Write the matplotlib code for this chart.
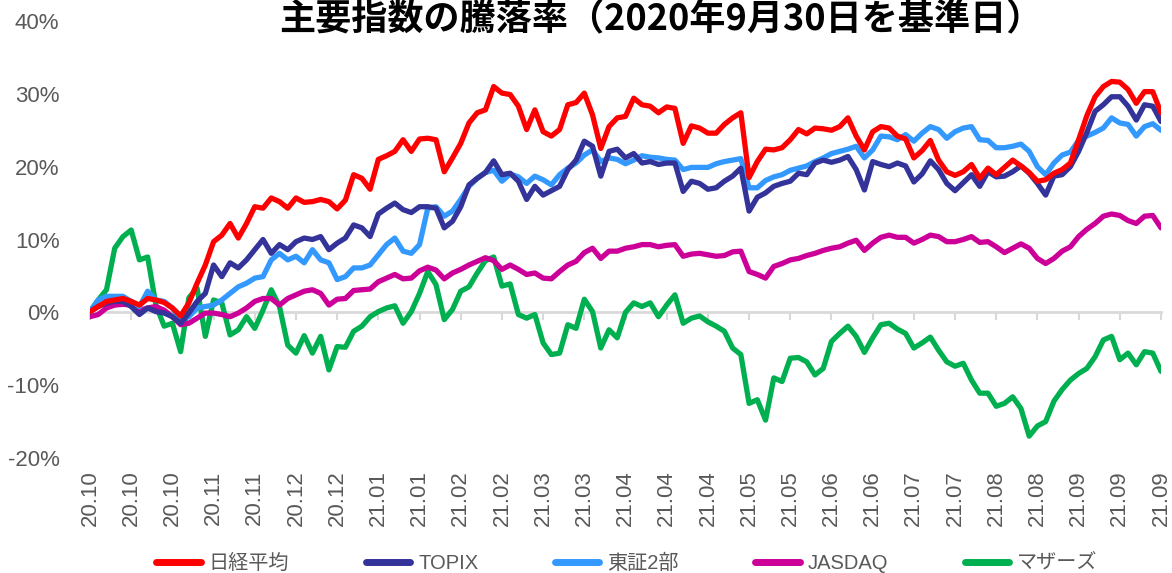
import numpy as np
import matplotlib
matplotlib.use("Agg")
import matplotlib.pyplot as plt

plt.rcParams['font.family'] = ['Liberation Sans', 'Noto Sans CJK JP', 'DejaVu Sans']

# ---- data (percent change from 2020-09-30, sampled every 2 trading days) ----
day = np.arange(0, 261, 2)

nikkei = [0.1, 0.8, 1.5, 1.7, 1.9, 1.5, 1.0, 1.9, 1.7, 1.35, 0.6,
          -0.5, 1.3, 4.0, 6.5, 9.7, 10.6, 12.2, 10.2, 12.2, 14.5,
          14.3, 15.7, 15.2, 14.3, 15.7, 15.1, 15.2, 15.5, 15.2, 14.2, 15.4, 18.9,
          18.4, 16.9, 21.0, 21.5, 22.1, 23.7, 22.1, 23.8, 23.9, 23.7, 19.3, 21.2, 23.2,
          26.0, 27.4, 27.8, 31.0, 30.1, 29.9, 28.3, 25.1, 27.8, 24.8, 24.2, 25.1, 28.5,
          28.8, 30.1, 27.1, 22.5, 25.5, 26.7, 26.9,
          29.4, 28.5, 28.3, 27.4, 28.2, 28.0, 23.2, 25.6, 25.3, 24.6, 24.6, 25.8, 26.7,
          27.4, 18.5, 20.7, 22.4, 22.3, 22.6, 23.7, 25.1, 24.5, 25.3, 25.2, 25.0, 25.5,
          26.7, 24.2, 22.3, 24.8, 25.5, 25.3, 24.2,
          23.8, 21.2, 22.2, 23.6, 20.9, 19.3, 18.8, 19.3, 20.3, 18.4, 19.8, 18.9, 19.9,
          20.9, 20.1, 19.2, 18.0, 18.2, 19.1, 19.6, 20.5, 23.7, 27.0, 29.6, 31.0, 31.7,
          31.6, 30.6, 28.7, 30.3, 30.3, 27.4]

topix = [0.1, 0.8, 1.3, 1.5, 1.5, 0.8, -0.3, 0.6, 0.1, -0.1, -0.6, -1.5, -0.1, 1.5,
         2.6, 6.5, 4.9, 6.8, 6.1, 7.2, 8.6, 10.0, 8.1, 9.3, 8.6, 9.7, 10.2, 10.0, 10.4,
         8.6, 9.5, 10.2, 12.0,
         11.6, 10.4, 13.5, 14.3, 15.0, 14.1, 13.7, 14.5, 14.5, 14.3, 11.6, 12.5, 14.5,
         17.5, 18.4, 19.2, 20.8, 18.9, 19.1, 18.0, 15.5, 17.3, 16.1, 16.7, 17.3, 19.6,
         20.9, 23.5, 22.8, 18.7, 22.1, 22.4, 21.2,
         21.8, 20.5, 20.7, 20.3, 20.5, 20.5, 16.6, 18.0, 17.7, 16.9, 17.1, 18.0, 18.7,
         19.8, 13.9, 15.8, 16.4, 17.3, 17.7, 18.0, 19.1, 18.9, 20.5, 20.9, 20.6, 20.9,
         21.4, 19.6, 16.8, 20.7, 20.3, 20.0, 20.5,
         20.1, 17.9, 19.0, 20.8, 19.6, 17.7, 16.7, 17.8, 18.9, 17.3, 19.3, 18.6, 18.7,
         19.3, 20.1, 19.1, 17.7, 16.1, 18.7, 18.9, 20.0, 22.1, 24.7, 27.6, 28.5, 29.6,
         29.6, 28.3, 26.4, 28.5, 28.3, 26.2]

tse2 = [0.1, 1.7, 2.2, 2.2, 2.2, 1.5, 0.8, 2.9, 1.7, 1.5, 0.6, -1.0, -0.6, 0.6, 0.8,
        1.0, 1.7, 2.6, 3.5, 4.0, 4.7, 4.9, 7.2, 8.1, 7.2, 7.7, 6.8, 8.6, 7.2, 6.8, 4.5,
        4.9, 6.1,
        6.1, 6.5, 7.9, 9.3, 10.2, 8.4, 8.1, 9.3, 14.3, 14.5, 13.2, 13.9, 15.5, 17.3,
        18.4, 19.2, 19.5, 18.0, 19.0, 18.6, 17.7, 18.7, 18.2, 17.5, 18.9, 19.8, 20.5,
        21.6, 22.3, 20.7, 21.2, 21.0, 20.4,
        20.9, 21.5, 21.3, 21.2, 21.0, 20.9, 19.6, 19.9, 19.9, 19.9, 20.4, 20.7, 20.9,
        21.1, 17.1, 17.1, 18.1, 18.6, 18.9, 19.5, 19.8, 20.1, 20.7, 21.2, 21.8, 22.1,
        22.4, 22.8, 21.2, 22.3, 24.2, 24.1, 23.7,
        24.4, 23.5, 24.6, 25.5, 25.1, 23.9, 24.8, 25.3, 25.5, 23.7, 23.6, 22.6, 22.6,
        22.8, 23.1, 22.1, 20.0, 18.9, 20.5, 21.6, 22.0, 23.6, 24.2, 24.7, 25.3, 26.7,
        26.0, 25.8, 24.2, 25.5, 25.9, 25.0]

jasdaq = [-0.6, -0.3, 0.6, 1.0, 1.1, 1.0, 0.25, 0.6, 0.8, 0.3, -0.6, -1.7, -1.5,
          -0.8, -0.1, -0.1, -0.3, -0.6, -0.1, 0.6, 1.5, 1.9, 1.9, 1.0, 1.9, 2.4, 2.9,
          3.1, 2.6, 1.0, 1.8, 1.9, 3.0,
          3.1, 3.2, 4.2, 4.7, 5.2, 4.6, 4.7, 5.7, 6.2, 5.8, 4.6, 5.4, 5.9, 6.5, 7.0,
          7.5, 7.1, 5.9, 6.5, 5.9, 5.2, 5.4, 4.7, 4.6, 5.6, 6.5, 7.0, 8.2, 8.8, 7.4,
          8.4, 8.4, 8.8,
          9.0, 9.3, 9.3, 9.0, 9.2, 9.3, 7.7, 8.0, 8.1, 7.9, 7.7, 7.8, 8.3, 8.4, 5.6,
          5.2, 4.7, 6.3, 6.7, 7.2, 7.4, 7.8, 8.1, 8.5, 8.8, 9.0, 9.5, 9.9, 8.5, 9.5,
          10.3, 10.6, 10.3,
          10.3, 9.5, 10.0, 10.6, 10.4, 9.7, 9.7, 10.0, 10.4, 9.6, 9.7, 9.0, 8.2, 8.8,
          9.4, 8.8, 7.4, 6.7, 7.4, 8.4, 9.0, 10.4, 11.4, 12.2, 13.2, 13.5, 13.3, 12.6,
          12.2, 13.2, 13.3, 11.6]

mothers = [0.1, 1.7, 3.1, 8.8, 10.4, 11.3, 7.2, 7.6, 1.0, -1.9, -1.5, -5.4, 2.0,
           3.3, -3.3, 1.7, 1.3, -3.1, -2.4, -0.6, -2.2, 0.3, 3.1, 0.8, -4.5, -5.6,
           -3.2, -5.6, -3.3, -7.9, -4.7, -4.8, -2.6,
           -1.9, -0.6, 0.1, 0.6, 0.9, -1.5, 0.1, 2.6, 5.6, 3.8, -1.0, 0.4, 2.9, 3.5,
           5.4, 7.1, 7.6, 3.6, 3.9, -0.3, -0.8, -0.3, -4.2, -5.8, -5.6, -1.7, -2.2,
           1.8, 0.1, -4.9, -2.4, -3.5, 0.0,
           1.3, 0.8, 1.3, -0.6, 1.0, 2.4, -1.5, -0.8, -0.5, -1.3, -1.9, -2.6, -4.9,
           -5.8, -12.5, -12.0, -14.8, -9.0, -9.5, -6.3, -6.2, -6.8, -8.6, -7.7, -4.0,
           -2.9, -1.9, -3.3, -5.5, -3.5, -1.7, -1.5, -2.3,
           -2.9, -4.9, -4.2, -3.4, -5.2, -6.8, -7.4, -7.0, -9.3, -11.1, -11.1, -12.9,
           -12.5, -11.6, -13.2, -17.0, -15.6, -15.0, -12.2, -10.6, -9.3, -8.4, -7.7,
           -6.1, -3.8, -3.3, -6.5, -5.6, -7.2, -5.4, -5.6, -8.1]

tick_labels = ['20.10', '20.10', '20.10', '20.11', '20.11', '20.12', '20.12',
               '21.01', '21.01', '21.02', '21.02', '21.03', '21.03', '21.04',
               '21.04', '21.04', '21.05', '21.05', '21.06', '21.06', '21.07',
               '21.07', '21.08', '21.08', '21.09', '21.09', '21.09']

series_names = ['日経平均', 'TOPIX', '東証2部', 'JASDAQ', 'マザーズ']
series_colors = ['#FF0000', '#333399', '#3399FF', '#CC0099', '#00B050']
title = '主要指数の騰落率（2020年9月30日を基準日）'

# ---- figure ----
W, H = 1172, 573
fig = plt.figure(figsize=(W / 100, H / 100), dpi=100)
ax = fig.add_axes([90 / W, (H - 458) / H, (1161 - 90) / W, (458 - 21) / H])

draw_order = [4, 3, 2, 1, 0]
all_series = [nikkei, topix, tse2, jasdaq, mothers]
handles = [None] * 5
for i in draw_order:
    (ln,) = ax.plot(day, np.array(all_series[i]) / 100.0, color=series_colors[i],
                    lw=3.8, solid_joinstyle='round', solid_capstyle='round',
                    label=series_names[i], zorder=3)
    handles[i] = ln

ax.set_xlim(0, 260)
ax.set_ylim(-0.2, 0.4)
ax.set_yticks(np.arange(-0.2, 0.41, 0.1))
ax.set_yticklabels([f'{round(v * 100)}%' for v in np.arange(-0.2, 0.41, 0.1)])
ax.tick_params(axis='y', length=0, pad=22, labelsize=16, labelcolor='#595959')

for s in ['left', 'right', 'top']:
    ax.spines[s].set_visible(False)
ax.spines['bottom'].set_position(('data', 0))
ax.spines['bottom'].set_color('#D9D9D9')
ax.spines['bottom'].set_linewidth(2)
ax.spines['bottom'].set_zorder(1)

tick_pos = np.arange(0, 261, 10)
ax.set_xticks(tick_pos)
ax.tick_params(axis='x', length=6, width=1.5, color='#D9D9D9', direction='out',
               labelbottom=False)

sec = ax.secondary_xaxis('bottom')
sec.set_xticks(tick_pos)
sec.set_xticklabels(tick_labels, rotation=90, va='top', ha='center')
sec.tick_params(length=0, pad=9, labelsize=16, labelcolor='#595959')
sec.spines['bottom'].set_visible(False)

fig.text(661 / W, 1 - 19 / H, title, ha='center', va='center', fontsize=26,
         fontweight='bold', family=['Noto Sans CJK JP'], color='black')

leg = fig.legend(handles, series_names, loc='center', ncol=5,
                 bbox_to_anchor=(627 / W, (H - 563) / H), frameon=False,
                 fontsize=14.5, handlelength=2.2, handletextpad=0.4,
                 columnspacing=3.8, borderpad=0)
for t in leg.get_texts():
    t.set_color('#595959')
for lh in leg.get_lines():
    lh.set_linewidth(5)
    lh.set_solid_capstyle('round')

fig.savefig('out.png', dpi=100)
